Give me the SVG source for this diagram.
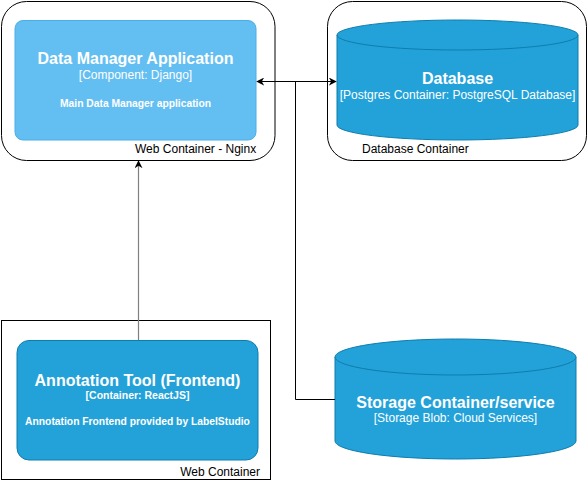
<svg xmlns="http://www.w3.org/2000/svg" width="588" height="481" viewBox="0 0 588 481">
<style>
text{font-family:"Liberation Sans",Arial,sans-serif}
.w{fill:#ffffff;text-anchor:middle}
.t{font-size:16px;font-weight:bold}
.s{font-size:12px}
.d{font-size:10.3px;font-weight:bold}
.lbl{font-size:12px;fill:#000000}
.box{fill:none;stroke:#000000;stroke-width:1}
.cyl{fill:#23A2D9;stroke:#0E7DAD;stroke-width:1}
.edge{fill:none;stroke:#000000;stroke-width:1}
</style>
<defs>
<marker id="arr" viewBox="0 0 10 10" refX="9" refY="5" markerWidth="8" markerHeight="8" markerUnits="userSpaceOnUse" orient="auto-start-reverse">
<path d="M0,0 L10,5 L0,10 L3,5 Z" fill="#000000"/>
</marker>
</defs>
<g id="web-container-nginx">
<rect class="box" x="1.5" y="1.5" width="273.5" height="159" rx="25"/>
<text class="lbl" x="135" y="153">Web Container - Nginx</text>
</g>
<g id="data-manager">
<rect x="15" y="20.5" width="241" height="119.5" rx="8" fill="#63BEF2" stroke="#4AAEE8" stroke-width="1"/>
<text class="w t" x="135.5" y="64">Data Manager Application</text>
<text class="w s" x="135.5" y="79">[Component: Django]</text>
<text class="w d" x="135.5" y="107">Main Data Manager application</text>
</g>
<g id="database-container">
<rect class="box" x="327.5" y="1.5" width="259" height="159" rx="25"/>
<text class="lbl" x="362" y="153">Database Container</text>
</g>
<g id="database">
<path class="cyl" d="M337,35 a120.5,15 0 0 1 241,0 V125 a120.5,15 0 0 1 -241,0 Z"/>
<path class="cyl" fill="none" d="M337,35 a120.5,15 0 0 0 241,0"/>
<text class="w t" x="457.5" y="84">Database</text>
<text class="w s" x="457.5" y="99">[Postgres Container: PostgreSQL Database]</text>
</g>
<g id="web-container">
<rect class="box" x="1.5" y="320.5" width="269" height="159"/>
<text class="lbl" x="260" y="476" text-anchor="end">Web Container</text>
</g>
<g id="annotation-tool">
<rect x="17" y="340.5" width="241" height="119.5" rx="12" fill="#23A2D9" stroke="#0E7DAD" stroke-width="1"/>
<text class="w t" x="137.5" y="386">Annotation Tool (Frontend)</text>
<text class="w" x="137.5" y="399" style="font-size:10.5px;font-weight:bold">[Container: ReactJS]</text>
<text class="w d" x="137.5" y="425">Annotation Frontend provided by LabelStudio</text>
</g>
<g id="storage">
<path class="cyl" d="M335,357 a120.5,18 0 0 1 241,0 V441 a120.5,18 0 0 1 -241,0 Z"/>
<path class="cyl" fill="none" d="M335,357 a120.5,18 0 0 0 241,0"/>
<text class="w t" x="455.5" y="408">Storage Container/service</text>
<text class="w s" x="455.5" y="422">[Storage Blob: Cloud Services]</text>
</g>
<g id="connectors">
<path d="M138.5,340 V161" fill="none" stroke="#808080" stroke-width="1.2" marker-end="url(#arr)"/>
<path class="edge" d="M257,81.5 H336" marker-start="url(#arr)" marker-end="url(#arr)"/>
<path class="edge" d="M295.5,81.5 V399.5 H335"/>
</g>
</svg>
